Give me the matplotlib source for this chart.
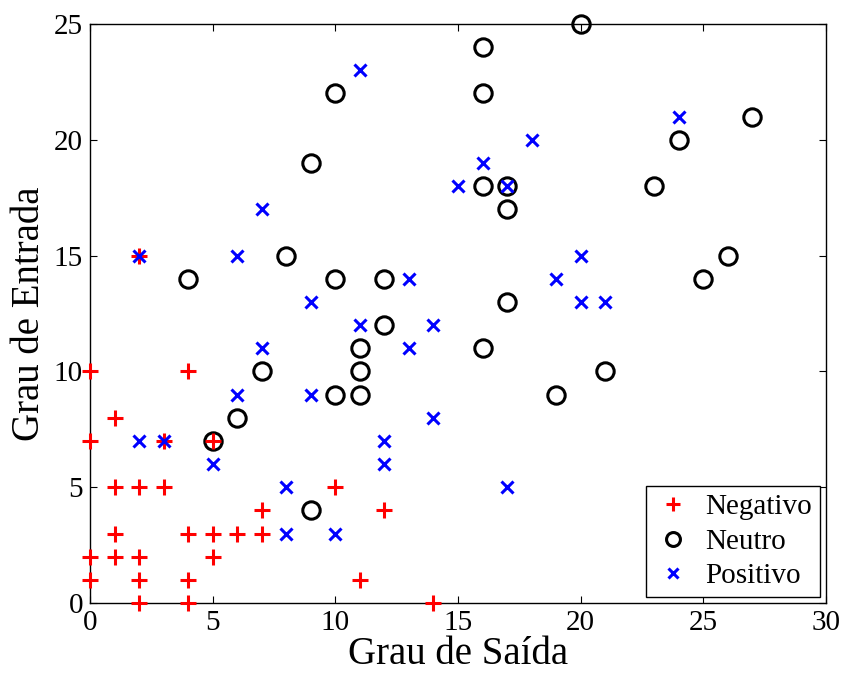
import matplotlib
matplotlib.use("Agg")
import matplotlib.pyplot as plt

plt.rcParams['font.family'] = ['Liberation Serif', 'DejaVu Serif']
plt.rcParams['mathtext.fontset'] = 'stix'

neg_x = [0, 0, 0, 0, 1, 1, 1, 1, 2, 2, 2, 2, 2, 3, 3, 4, 4, 4, 4, 5, 5, 5, 6, 7, 7, 10, 11, 12, 14]
neg_y = [10, 7, 2, 1, 8, 5, 3, 2, 15, 5, 2, 1, 0, 7, 5, 10, 3, 1, 0, 7, 3, 2, 3, 4, 3, 5, 1, 4, 0]

neu_x = [4, 5, 6, 7, 8, 9, 9, 10, 10, 10, 11, 11, 11, 12, 12, 16, 16, 16, 16, 17, 17, 17, 19, 20, 21, 23, 24, 25, 26, 27]
neu_y = [14, 7, 8, 10, 15, 19, 4, 22, 14, 9, 11, 10, 9, 14, 12, 24, 22, 18, 11, 18, 17, 13, 9, 25, 10, 18, 20, 14, 15, 21]

pos_x = [2, 2, 3, 5, 6, 6, 7, 7, 8, 8, 9, 9, 10, 11, 11, 12, 12, 13, 13, 14, 14, 15, 16, 17, 17, 18, 19, 20, 20, 21, 24]
pos_y = [15, 7, 7, 6, 15, 9, 17, 11, 5, 3, 13, 9, 3, 23, 12, 7, 6, 14, 11, 12, 8, 18, 19, 18, 5, 20, 14, 15, 13, 13, 21]

labels = ['Negativo', 'Neutro', 'Positivo']
x_ticks = [0, 5, 10, 15, 20, 25, 30]
y_ticks = [0, 5, 10, 15, 20, 25]

fig = plt.figure(figsize=(8.42, 6.75), dpi=100)
ax = fig.add_axes([90/842, 72/675, 736/842, 579/675])

ax.plot(neg_x, neg_y, linestyle='none', marker='+', color='#ff0000', markersize=12,
        markeredgewidth=2.2, label=labels[0], clip_on=False, zorder=3)
ax.plot(neu_x, neu_y, linestyle='none', marker='o', markerfacecolor='none',
        markeredgecolor='black', markersize=12.5, markeredgewidth=2.2, label=labels[1],
        clip_on=False, zorder=2)
ax.plot(pos_x, pos_y, linestyle='none', marker='x', color='#0000ff', markersize=9,
        markeredgewidth=2.2, label=labels[2], clip_on=False, zorder=4)

ax.set_xlim(0, 30)
ax.set_ylim(0, 25)
ax.set_xticks(x_ticks)
ax.set_yticks(y_ticks)
ax.tick_params(direction='in', top=True, right=True, labelsize=21, length=5, width=0.8, pad=5)
for s in ax.spines.values():
    s.set_linewidth(1.0)

ax.set_xlabel('Grau de Saída', fontsize=28, labelpad=0)
ax.set_ylabel('Grau de Entrada', fontsize=28, labelpad=4)

leg = ax.legend(loc='lower right', fontsize=21, frameon=True, fancybox=False,
                edgecolor='black', framealpha=1, borderpad=0.25, handlelength=1.4,
                handletextpad=0.4, labelspacing=0.28, borderaxespad=0.22, markerscale=0.8)
leg.get_frame().set_linewidth(1.0)

fig.savefig('out.png', dpi=100)
